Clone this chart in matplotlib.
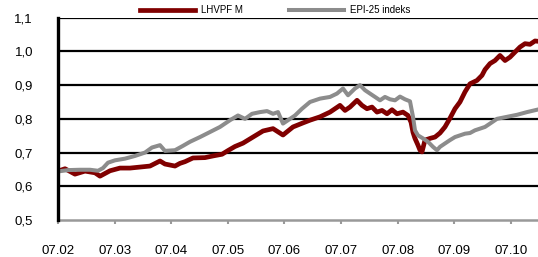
import matplotlib
matplotlib.use("Agg")
import matplotlib.pyplot as plt

plt.rcParams['font.family'] = ['Liberation Sans', 'DejaVu Sans']

# x position in months since 07.02 (0 = 07.02, 1 = 07.03, ...)
red_px = [58, 65, 75, 85, 95, 100, 110, 120, 130, 140, 150, 160, 165, 175, 180, 185, 193, 205, 213,
          222, 228, 235, 243, 253, 263, 273, 283, 293, 303, 310, 320, 330, 340, 345, 350, 357, 362,
          367, 372, 377, 382, 387, 392, 397, 403, 408, 411, 413, 415, 418, 420, 422, 425, 430, 435,
          440, 445, 450, 455, 460, 465, 470, 477, 482, 485, 490, 495, 500, 505, 510, 515, 520, 525,
          530, 535, 538]
lhvpf = [0.645, 0.652, 0.636, 0.645, 0.640, 0.630, 0.646, 0.654, 0.654, 0.657, 0.660, 0.675, 0.666,
         0.660, 0.668, 0.673, 0.684, 0.685, 0.690, 0.695, 0.706, 0.718, 0.728, 0.746, 0.764, 0.771,
         0.752, 0.776, 0.788, 0.796, 0.806, 0.820, 0.840, 0.825, 0.835, 0.855, 0.840, 0.830, 0.835,
         0.820, 0.825, 0.815, 0.827, 0.815, 0.820, 0.810, 0.790, 0.760, 0.742, 0.722, 0.707, 0.702,
         0.737, 0.742, 0.746, 0.758, 0.776, 0.802, 0.830, 0.850, 0.880, 0.904, 0.914, 0.929, 0.946,
         0.964, 0.973, 0.988, 0.973, 0.983, 0.998, 1.013, 1.023, 1.021, 1.031, 1.030]

gray_px = [58, 68, 80, 90, 98, 103, 108, 115, 125, 135, 145, 152, 160, 165, 175, 183, 190, 200, 210,
           220, 230, 238, 245, 252, 260, 267, 273, 278, 283, 288, 295, 302, 310, 320, 330, 337, 343,
           348, 355, 360, 365, 370, 375, 380, 385, 390, 395, 400, 405, 410, 413, 415, 418, 423, 428,
           433, 437, 440, 445, 450, 455, 460, 465, 470, 475, 480, 485, 490, 497, 507, 517, 527, 537]
epi25 = [0.644, 0.648, 0.649, 0.649, 0.646, 0.654, 0.670, 0.677, 0.682, 0.690, 0.700, 0.715, 0.722,
         0.705, 0.707, 0.720, 0.732, 0.746, 0.761, 0.776, 0.796, 0.810, 0.800, 0.815, 0.820, 0.823,
         0.815, 0.820, 0.786, 0.796, 0.810, 0.830, 0.850, 0.860, 0.865, 0.875, 0.890, 0.870, 0.890,
         0.900, 0.885, 0.875, 0.865, 0.855, 0.865, 0.858, 0.855, 0.866, 0.858, 0.852, 0.806, 0.766,
         0.751, 0.742, 0.732, 0.717, 0.707, 0.717, 0.727, 0.737, 0.746, 0.751, 0.756, 0.758, 0.766,
         0.771, 0.776, 0.786, 0.800, 0.806, 0.812, 0.820, 0.827]

month_labels = ["07.02", "07.03", "07.04", "07.05", "07.06", "07.07", "07.08", "07.09", "07.10"]
y_ticks = [0.5, 0.6, 0.7, 0.8, 0.9, 1.0, 1.1]
series_names = ["LHVPF M", "EPI-25 indeks"]

red_m = [round((p - 58) / 56.6, 3) for p in red_px]
gray_m = [round((p - 58) / 56.6, 3) for p in gray_px]

fig = plt.figure(figsize=(5.38, 2.57), dpi=100)
ax = fig.add_axes([58 / 538, 1 - 220 / 257, 480 / 538, (220 - 17.7) / 257])

for y in y_ticks[1:]:
    ax.axhline(y, color='black', lw=1.6, zorder=1)

ax.plot(red_m, lhvpf, color='#800000', lw=3.4, label=series_names[0], zorder=3,
        solid_joinstyle='round')
ax.plot(gray_m, epi25, color='#8c8c8c', lw=2.9, label=series_names[1], zorder=4,
        solid_joinstyle='round')

ax.set_xlim(0, 480 / 56.6)
ax.set_ylim(0.5, 1.1)
ax.set_yticks(y_ticks)
ax.set_yticklabels([f"{v:.1f}".replace('.', ',') for v in y_ticks], fontsize=9.5)
ax.set_xticks(range(len(month_labels)))
ax.set_xticklabels(month_labels, fontsize=9.5)
ax.tick_params(axis='y', length=0, pad=18)
ax.tick_params(axis='x', length=3, color='#999999', width=1.5, pad=15)

for s in ['top', 'right']:
    ax.spines[s].set_visible(False)
ax.spines['left'].set_color('black')
ax.spines['left'].set_linewidth(2.4)
ax.spines['bottom'].set_color('#999999')
ax.spines['bottom'].set_linewidth(1.8)
ax.spines['left'].set_zorder(5)

fig.legend(loc='center', bbox_to_anchor=(0.511, 0.961), ncol=2, frameon=False,
           fontsize=7, handlelength=5.7, handletextpad=0.6, columnspacing=4.7,
           borderpad=0, borderaxespad=0)

fig.savefig("out.png", dpi=100)
